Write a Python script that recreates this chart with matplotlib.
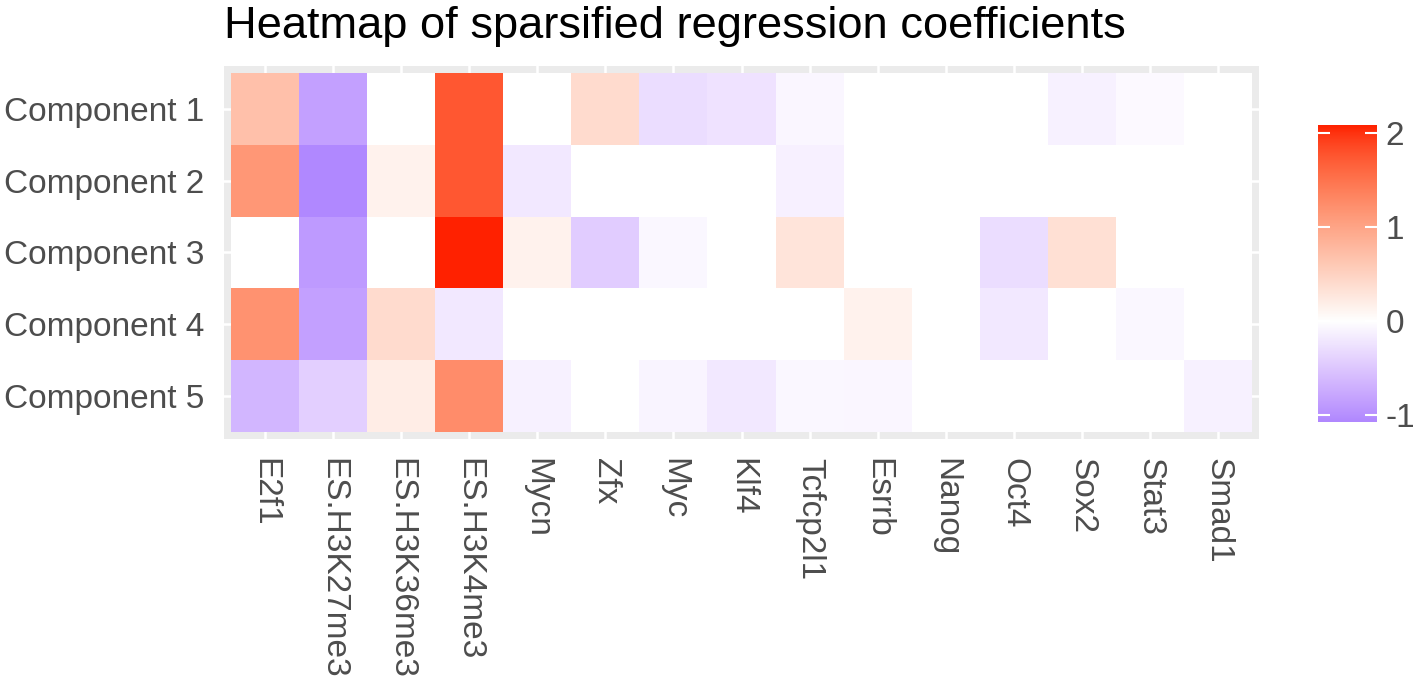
import numpy as np
import matplotlib
matplotlib.use("Agg")
import matplotlib.pyplot as plt
from matplotlib.colors import ListedColormap, Normalize

plt.rcParams['font.family'] = ['Liberation Sans', 'DejaVu Sans']

# data
features = ["E2f1", "ES.H3K27me3", "ES.H3K36me3", "ES.H3K4me3", "Mycn", "Zfx", "Myc",
            "Klf4", "Tcfcp2l1", "Esrrb", "Nanog", "Oct4", "Sox2", "Stat3", "Smad1"]
components = ["Component 1", "Component 2", "Component 3", "Component 4", "Component 5"]

comp1 = [0.70, -0.85, 0.00, 1.75, 0.00, 0.40, -0.30, -0.25, -0.08, 0.00, 0.00, 0.00, -0.12, -0.05, 0.00]
comp2 = [1.15, -1.07, 0.15, 1.75, -0.20, 0.00, 0.00, 0.00, -0.13, 0.00, 0.00, 0.00, 0.00, 0.00, 0.00]
comp3 = [0.00, -0.90, 0.00, 2.08, 0.15, -0.45, -0.07, 0.00, 0.30, 0.00, 0.00, -0.30, 0.35, 0.00, 0.00]
comp4 = [1.20, -0.85, 0.40, -0.20, 0.00, 0.00, 0.00, 0.00, 0.00, 0.15, 0.00, -0.20, 0.00, -0.07, 0.00]
comp5 = [-0.65, -0.42, 0.20, 1.25, -0.12, 0.00, -0.10, -0.20, -0.07, -0.08, 0.00, 0.00, 0.00, 0.00, -0.12]

cbar_ticks = [-1, 0, 1, 2]

coef = np.array([comp1, comp2, comp3, comp4, comp5])


# gradient2-like palette: blue - white - red, interpolated in Lab space
def to_lab(rgb):
    c = np.asarray(rgb, float)
    lin = np.where(c <= 0.04045, c / 12.92, ((c + 0.055) / 1.055) ** 2.4)
    M = np.array([[0.4124, 0.3576, 0.1805], [0.2126, 0.7152, 0.0722], [0.0193, 0.1192, 0.9505]])
    xyz = M @ lin / np.array([0.95047, 1.0, 1.08883])
    f = np.where(xyz > (6 / 29) ** 3, np.cbrt(xyz), xyz / (3 * (6 / 29) ** 2) + 4 / 29)
    return np.array([116 * f[1] - 16, 500 * (f[0] - f[1]), 200 * (f[1] - f[2])])


def from_lab(lab):
    L, a, b = lab
    fy = (L + 16) / 116
    f = np.array([fy + a / 500, fy, fy - b / 200])
    xyz = np.where(f > 6 / 29, f ** 3, 3 * (6 / 29) ** 2 * (f - 4 / 29)) * np.array([0.95047, 1.0, 1.08883])
    Minv = np.linalg.inv(np.array([[0.4124, 0.3576, 0.1805], [0.2126, 0.7152, 0.0722], [0.0193, 0.1192, 0.9505]]))
    lin = np.clip(Minv @ xyz, 0, 1)
    c = np.where(lin <= 0.0031308, 12.92 * lin, 1.055 * lin ** (1 / 2.4) - 0.055)
    return np.clip(c, 0, 1)


low, mid, high = to_lab((0, 0, 1)), to_lab((1, 1, 1)), to_lab((1, 0.13, 0))
colors = []
for t in np.linspace(0, 1, 511):
    if t < 0.5:
        s = t / 0.5
        colors.append(from_lab(low + (mid - low) * s))
    else:
        s = (t - 0.5) / 0.5
        colors.append(from_lab(mid + (high - mid) * s))
cmap = ListedColormap(colors)

lim = np.abs(coef).max()
norm = Normalize(-lim, lim)

fig = plt.figure(figsize=(14.15, 6.85), dpi=100)
ax = fig.add_axes([224 / 1415, 1 - 439 / 685, 1035 / 1415, 373 / 685])
ax.set_facecolor("#EBEBEB")

x = np.arange(len(features) + 1) - 0.5
y = np.arange(len(components) + 1) - 0.5
ax.pcolormesh(x, y, coef, cmap=cmap, norm=norm, zorder=2)

ax.set_xlim(-0.6, len(features) - 0.4)
ax.set_ylim(len(components) - 0.4, -0.6)
ax.set_xticks(range(len(features)))
ax.set_xticklabels(features, rotation=270, fontsize=24, color="#4D4D4D")
ax.set_yticks(range(len(components)))
ax.set_yticklabels(components, fontsize=24, color="#4D4D4D")
ax.tick_params(length=0, pad=14)
ax.grid(True, color="white", linewidth=1.8)
ax.set_axisbelow(True)
for s in ax.spines.values():
    s.set_visible(False)

fig.text(224 / 1415, 1 - 38 / 685, "Heatmap of sparsified regression coefficients",
         fontsize=32.6, color="black", va="baseline", ha="left")

# colour bar
cax = fig.add_axes([1318 / 1415, 1 - 422 / 685, 59 / 1415, 297 / 685])
vals = np.linspace(coef.min(), coef.max(), 300)
cax.imshow(vals[:, None], cmap=cmap, norm=norm, aspect="auto", origin="lower",
           extent=[0, 1, coef.min(), coef.max()])
cax.hlines(cbar_ticks, 0, 0.2, color="white", linewidth=1.5)
cax.hlines(cbar_ticks, 0.8, 1, color="white", linewidth=1.5)
cax.set_xlim(0, 1)
cax.set_ylim(coef.min(), coef.max())
cax.set_xticks([])
cax.yaxis.tick_right()
cax.set_yticks(cbar_ticks)
cax.set_yticklabels([str(t) for t in cbar_ticks], fontsize=24, color="#4D4D4D")
cax.tick_params(length=0, pad=6)
for s in cax.spines.values():
    s.set_visible(False)

fig.savefig("out.png", dpi=100)
